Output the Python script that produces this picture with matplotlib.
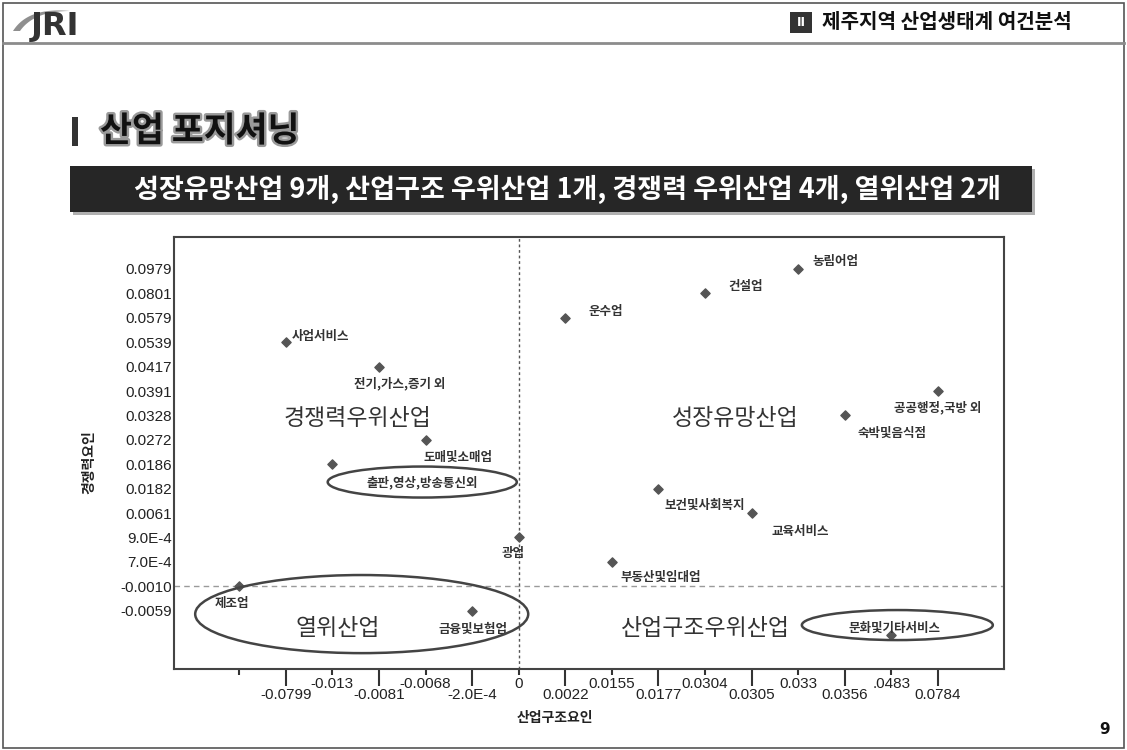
import matplotlib.pyplot as plt
from matplotlib.patches import Ellipse, Rectangle, Polygon
import matplotlib.patheffects as pe
import numpy as np

plt.rcParams['font.family'] = ['Noto Sans CJK KR', 'DejaVu Sans']

# 순위 기반 축 눈금 (아래->위, 왼쪽->오른쪽)
x_labels = ['', '-0.0799', '-0.013', '-0.0081', '-0.0068', '-2.0E-4', '0', '0.0022',
            '0.0155', '0.0177', '0.0304', '0.0305', '0.033', '0.0356', '.0483', '0.0784']
y_labels = ['', '-0.0059', '-0.0010', '7.0E-4', '9.0E-4', '0.0061', '0.0182', '0.0186',
            '0.0272', '0.0328', '0.0391', '0.0417', '0.0539', '0.0579', '0.0801', '0.0979']

# 산업별 값 (산업구조요인, 경쟁력요인)
industries = ['사업서비스', '전기,가스,증기 외', '도매및소매업', '출판,영상,방송통신외',
              '광업', '제조업', '금융및보험업', '운수업', '건설업', '농림어업',
              '공공행정,국방 외', '숙박및음식점', '보건및사회복지', '교육서비스',
              '부동산및임대업', '문화및기타서비스']
x_vals = ['-0.0799', '-0.0081', '-0.0068', '-0.013', '0', '', '-2.0E-4', '0.0022',
          '0.0304', '0.033', '0.0784', '0.0356', '0.0177', '0.0305', '0.0155', '.0483']
y_vals = ['0.0539', '0.0417', '0.0272', '0.0186', '9.0E-4', '-0.0010', '-0.0059', '0.0579',
          '0.0801', '0.0979', '0.0391', '0.0328', '0.0182', '0.0061', '7.0E-4', '']

# 라벨 위치 (픽셀 오프셋 dx, dy, 정렬)
label_pos = {
    '사업서비스': (6, 6, 'left'),
    '전기,가스,증기 외': (21, -17, 'center'),
    '도매및소매업': (-2, -18, 'left'),
    '출판,영상,방송통신외': (90, -18, 'center'),
    '광업': (-6, -16, 'center'),
    '제조업': (-7, -17, 'center'),
    '금융및보험업': (1, -19, 'center'),
    '운수업': (23, 6, 'left'),
    '건설업': (23, 7, 'left'),
    '농림어업': (14, 7, 'left'),
    '공공행정,국방 외': (0, -17, 'center'),
    '숙박및음식점': (47, -18, 'center'),
    '보건및사회복지': (46, -17, 'center'),
    '교육서비스': (49, -18, 'center'),
    '부동산및임대업': (49, -16, 'center'),
    '문화및기타서비스': (3, 7, 'center'),
}

# 사분면 이름과 강조 타원 (데이터 좌표)
quadrants = [('경쟁력우위산업', 2.53, 8.89), ('성장유망산업', 10.64, 8.89),
             ('열위산업', 2.12, 0.25), ('산업구조우위산업', 10.02, 0.25)]
ellipses = [(3.93, 6.27, 4.06, 1.27), (2.63, 0.86, 7.15, 3.2), (14.13, 0.41, 4.1, 1.23)]

fig = plt.figure(figsize=(11.27, 7.5), dpi=100)

# 슬라이드 배경 요소 (픽셀 좌표)
bg = fig.add_axes([0, 0, 1, 1], zorder=0)
bg.set_xlim(0, 1127)
bg.set_ylim(750, 0)
bg.axis('off')

bg.add_patch(Rectangle((3, 3), 1121, 745, fill=False, ec='#555555', lw=1.2))
bg.plot([3, 1124], [43, 43], color='#8c8c8c', lw=2)

# JRI 로고
t = np.linspace(0, 1, 30)
def bez(p0, p1, p2):
    return [((1 - s) ** 2 * p0[0] + 2 * (1 - s) * s * p1[0] + s ** 2 * p2[0],
             (1 - s) ** 2 * p0[1] + 2 * (1 - s) * s * p1[1] + s ** 2 * p2[1]) for s in t]
crescent = bez((13, 31), (28, 7), (70, 11)) + bez((70, 11), (34, 11), (20, 31))
bg.add_patch(Polygon(crescent, closed=True, fc='#8f8f8f', ec='none'))
bg.text(31, 26, 'JRI', fontsize=23, fontweight='heavy', color='#333333',
        family='DejaVu Sans', ha='left', va='center')

bg.add_patch(Rectangle((790, 12), 22, 21, fc='#333333', ec='none'))
bg.text(801, 22.5, 'II', fontsize=9, color='white', fontweight='bold', ha='center', va='center',
        family='DejaVu Sans')
bg.text(822, 22, '제주지역 산업생태계 여건분석', fontsize=14.5, fontweight='bold',
        color='#111111', ha='left', va='center')

# 제목
bg.add_patch(Rectangle((72, 117), 6, 29, fc='#333333', ec='none'))
bg.text(100, 131, '산업 포지셔닝', fontsize=25, fontweight='heavy', color='#111111',
        ha='left', va='center',
        path_effects=[pe.withStroke(linewidth=3.5, foreground='#9a9a9a')])

bg.add_patch(Rectangle((73, 169), 962, 46, fc='#b0b0b0', ec='none'))
bg.add_patch(Rectangle((70, 166), 962, 46, fc='#262626', ec='none'))
bg.text(567, 189, '성장유망산업 9개, 산업구조 우위산업 1개, 경쟁력 우위산업 4개, 열위산업 2개',
        fontsize=19.5, fontweight='bold', color='white', ha='center', va='center')

bg.text(1105, 730, '9', fontsize=11, fontweight='bold', color='#111111',
        ha='center', va='center', family='DejaVu Sans')

# 산점도
ax = fig.add_axes([174 / 1127, 1 - 669 / 750, 830 / 1127, 432 / 750], zorder=2)
ax.set_xlim(-1.4, 16.42)
ax.set_ylim(-1.39, 16.31)

xs = [x_labels.index(v) for v in x_vals]
ys = [y_labels.index(v) for v in y_vals]

ax.axhline(y_labels.index('-0.0010'), color='#9a9a9a', lw=1, ls=(0, (4, 3)), zorder=1)
ax.axvline(x_labels.index('0'), color='#555555', lw=1, ls=(0, (2, 2)), zorder=1)

ax.scatter(xs, ys, marker='D', s=22, color='#555555', zorder=3)

for name, xi, yi in zip(industries, xs, ys):
    dx, dy, ha = label_pos[name]
    ax.annotate(name, (xi, yi), xytext=(dx, dy), textcoords='offset pixels',
                ha=ha, va='center', fontsize=9, fontweight='bold', color='#333333')

for name, qx, qy in quadrants:
    ax.text(qx, qy, name, fontsize=16.5, fontweight='medium', color='#333333',
            ha='center', va='center')

for cx, cy, w, h in ellipses:
    ax.add_patch(Ellipse((cx, cy), w, h, fill=False, ec='#444444', lw=1.8, zorder=4))

even = list(range(0, 16, 2))
odd = list(range(1, 16, 2))
ax.set_xticks(even, [x_labels[i] for i in even])
ax.set_xticks(odd, [x_labels[i] for i in odd], minor=True)
ax.set_yticks(range(len(y_labels)), y_labels)
ax.tick_params(axis='x', which='major', length=4.3, width=1.5, pad=1.8, color='#333333')
ax.tick_params(axis='x', which='minor', length=12.2, width=1.5, pad=1.8, color='#333333')
ax.tick_params(axis='y', which='both', length=0, pad=1.5)
for lab in ax.get_xticklabels(which='both') + ax.get_yticklabels():
    lab.set_family('Liberation Sans')
    lab.set_fontsize(11)
    lab.set_color('#222222')

for sp in ax.spines.values():
    sp.set_color('#444444')
    sp.set_linewidth(1.5)

ax.set_xlabel('산업구조요인', fontsize=10, fontweight='bold', color='#222222')
ax.xaxis.set_label_coords(0.459, -0.097)
ax.set_ylabel('경쟁력요인', fontsize=10, fontweight='bold', color='#222222')
ax.yaxis.set_label_coords(-0.093, 0.479)

fig.savefig('out.png', dpi=100)
